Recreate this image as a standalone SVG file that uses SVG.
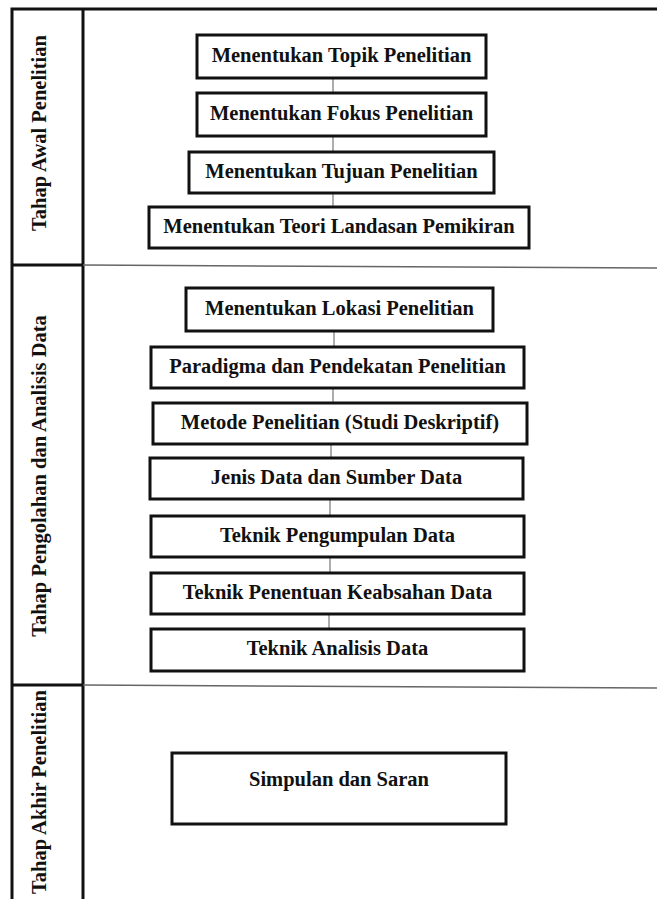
<svg xmlns="http://www.w3.org/2000/svg" width="657" height="899" viewBox="0 0 657 899">
<style>
.box{fill:#fff;stroke:#111;stroke-width:3}
.t{font-family:"Liberation Serif","Times New Roman",serif;font-weight:bold;font-size:20.5px;fill:#111;text-anchor:middle}
.frame{stroke:#111;stroke-width:3;fill:none}
.div{stroke:#666;stroke-width:1.5;fill:none}
.con{stroke:#777;stroke-width:1.2;fill:none}
</style>
<rect width="657" height="899" fill="#fff"/>
<g id="frame">
<path class="frame" d="M12,899 V9 H657"/>
<path class="frame" d="M83,9 V899"/>
<path class="frame" d="M12,265 H83 M12,685 H83"/>
<path class="div" d="M83,265 L657,268 M83,685 L657,688"/>
</g>
<g id="lane1"><text class="t" transform="translate(46,133) rotate(-90)">Tahap Awal Penelitian</text></g>
<g id="lane2"><text class="t" transform="translate(46,476) rotate(-90)">Tahap Pengolahan dan Analisis Data</text></g>
<g id="lane3"><text class="t" transform="translate(46,792) rotate(-90)">Tahap Akhir Penelitian</text></g>
<g id="connectors">
<path class="con" d="M333,78 V93 M333,136 V152 M333,193 V207"/>
<path class="con" d="M334,331 V347 M333,388 V403 M331,444 V458 M330,499 V516 M330,557 V573 M329,614 V629"/>
</g>
<g id="n1"><rect class="box" x="197" y="35" width="289" height="43"/><text class="t" x="341.5" y="62">Menentukan Topik Penelitian</text></g>
<g id="n2"><rect class="box" x="197" y="93" width="289" height="43"/><text class="t" x="341.5" y="120">Menentukan Fokus Penelitian</text></g>
<g id="n3"><rect class="box" x="189" y="152" width="305" height="41"/><text class="t" x="341.5" y="178">Menentukan Tujuan Penelitian</text></g>
<g id="n4"><rect class="box" x="149" y="207" width="380" height="41"/><text class="t" x="339" y="233">Menentukan Teori Landasan Pemikiran</text></g>
<g id="n5"><rect class="box" x="186" y="288" width="307" height="43"/><text class="t" x="339.5" y="315">Menentukan Lokasi Penelitian</text></g>
<g id="n6"><rect class="box" x="151" y="347" width="373" height="41"/><text class="t" x="337.5" y="373">Paradigma dan Pendekatan Penelitian</text></g>
<g id="n7"><rect class="box" x="153" y="403" width="374" height="41"/><text class="t" x="340" y="429">Metode Penelitian (Studi Deskriptif)</text></g>
<g id="n8"><rect class="box" x="150" y="458" width="373" height="41"/><text class="t" x="336.5" y="484">Jenis Data dan Sumber Data</text></g>
<g id="n9"><rect class="box" x="151" y="516" width="373" height="41"/><text class="t" x="337.5" y="542">Teknik Pengumpulan Data</text></g>
<g id="n10"><rect class="box" x="151" y="573" width="373" height="41"/><text class="t" x="337.5" y="599">Teknik Penentuan Keabsahan Data</text></g>
<g id="n11"><rect class="box" x="151" y="629" width="373" height="42"/><text class="t" x="337.5" y="655">Teknik Analisis Data</text></g>
<g id="n12"><rect class="box" x="172" y="753" width="334" height="71"/><text class="t" x="339" y="786">Simpulan dan Saran</text></g>
</svg>
